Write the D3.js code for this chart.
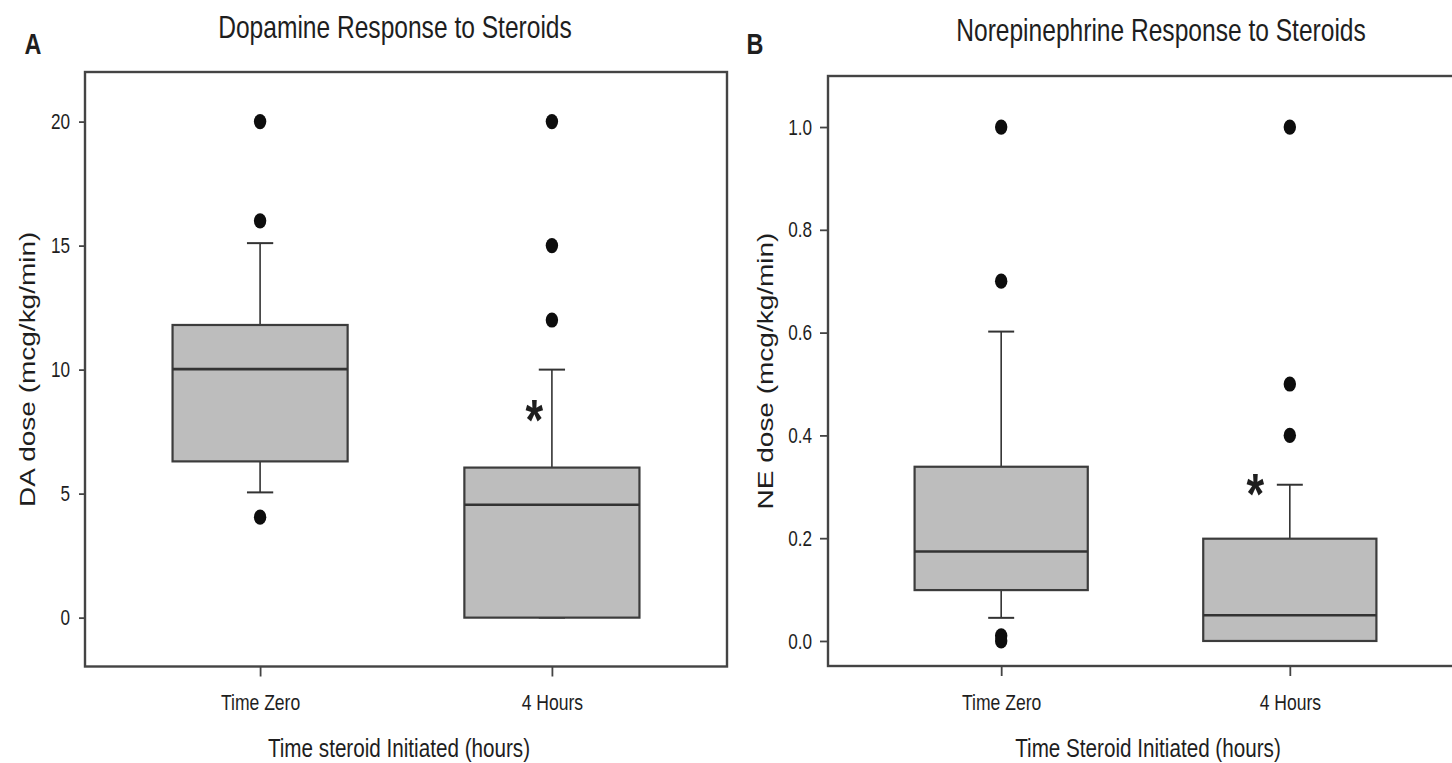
<!DOCTYPE html>
<html>
<head>
<meta charset="utf-8">
<script src="https://cdn.jsdelivr.net/npm/d3@7"></script>
<style>
  body { margin: 0; background: #fff; }
  svg { display: block; }
  text { font-family: "Liberation Sans", Arial, sans-serif; fill: #1e1e1e; }
</style>
</head>
<body>
<svg id="chart" width="1452" height="763"></svg>
<script>
// categories on the x axis (same for both panels)
var categories = ["Time Zero", "4 Hours"];

// box stats: [low whisker, q1, median, q3, high whisker]
var daTimeZero = [5.05, 6.3, 10.02, 11.8, 15.1];
var daFourHours = [0, 0, 4.55, 6.05, 10];
var daOutliers = [[20, 16, 4.05], [20, 15, 12]];
var daTicks = [0, 5, 10, 15, 20];
var daStar = 8.4; // significance mark on 4 Hours

var neTimeZero = [0.045, 0.099, 0.174, 0.339, 0.602];
var neFourHours = [0, 0, 0.05, 0.199, 0.304];
var neOutliers = [[1.0, 0.7, 0.01, 0.0], [1.0, 0.5, 0.4]];
var neTicks = [0.0, 0.2, 0.4, 0.6, 0.8, 1.0];
var neStar = 0.308;

var SX = 0.78; // horizontal squeeze of the original figure
var svg = d3.select("#chart");

function squeezeAt(sel, x, y) {
  sel.attr("transform", "translate(" + x + "," + y + ") scale(" + SX + ",1)");
}

function drawPanel(p) {
  var g = svg.append("g");

  var x = d3.scaleLinear().domain([-0.6, 1.6]).range([p.left, p.right]);
  var y = d3.scaleLinear().domain(p.yDomain).range([p.bottom, p.top]);

  var boxHalf = 0.3, capHalf = 0.045;

  // boxes
  p.boxes.forEach(function(b, i) {
    var bg = g.append("g");
    // whiskers
    bg.append("line")
      .attr("x1", x(i)).attr("x2", x(i))
      .attr("y1", y(b[3])).attr("y2", y(b[4]))
      .attr("stroke", "#333").attr("stroke-width", 1.6);
    bg.append("line")
      .attr("x1", x(i)).attr("x2", x(i))
      .attr("y1", y(b[1])).attr("y2", y(b[0]))
      .attr("stroke", "#333").attr("stroke-width", 1.6);
    [b[0], b[4]].forEach(function(v) {
      bg.append("line")
        .attr("x1", x(i - capHalf)).attr("x2", x(i + capHalf))
        .attr("y1", y(v)).attr("y2", y(v))
        .attr("stroke", "#333").attr("stroke-width", 2);
    });
    bg.append("rect")
      .attr("x", x(i - boxHalf))
      .attr("y", y(b[3]))
      .attr("width", x(i + boxHalf) - x(i - boxHalf))
      .attr("height", y(b[1]) - y(b[3]))
      .attr("fill", "#bdbdbd")
      .attr("stroke", "#3c3c3c")
      .attr("stroke-width", 2.2);
    bg.append("line")
      .attr("x1", x(i - boxHalf)).attr("x2", x(i + boxHalf))
      .attr("y1", y(b[2])).attr("y2", y(b[2]))
      .attr("stroke", "#333").attr("stroke-width", 2.6);
    // outliers
    bg.selectAll("ellipse")
      .data(p.outliers[i])
      .enter().append("ellipse")
      .attr("cx", x(i))
      .attr("cy", function(d) { return y(d); })
      .attr("rx", 6.2).attr("ry", 7.6)
      .attr("fill", "#0d0d0d");
  });

  // significance star
  var star = g.append("text")
    .attr("text-anchor", "middle")
    .style("font-size", "58px")
    .style("font-weight", "bold")
    .text("*");
  squeezeAt(star, x(1 + p.starOffset), y(p.star) + 31);

  // frame
  g.append("rect")
    .attr("x", p.left).attr("y", p.top)
    .attr("width", p.right - p.left).attr("height", p.bottom - p.top)
    .attr("fill", "none")
    .attr("stroke", "#444")
    .attr("stroke-width", 2.4);

  // y axis
  var yAxis = g.append("g")
    .attr("transform", "translate(" + p.left + ",0)")
    .call(d3.axisLeft(y).tickValues(p.ticks).tickSize(p.ytick).tickPadding(p.ypad).tickFormat(p.fmt));
  yAxis.select(".domain").remove();
  yAxis.selectAll(".tick line").attr("stroke", "#444").attr("stroke-width", 1.8);
  yAxis.selectAll(".tick text")
    .attr("x", -(p.ytick + p.ypad) / SX)
    .attr("transform", "scale(" + SX + ",1)")
    .attr("fill", "#1e1e1e")
    .style("font-size", "22px");

  // x axis
  var xAxis = g.append("g")
    .attr("transform", "translate(0," + p.bottom + ")")
    .call(d3.axisBottom(x).tickValues([0, 1]).tickSize(10).tickPadding(18)
      .tickFormat(function(i) { return categories[i]; }));
  xAxis.select(".domain").remove();
  xAxis.selectAll(".tick line").attr("stroke", "#444").attr("stroke-width", 1.8);
  xAxis.selectAll(".tick text")
    .attr("transform", "scale(" + SX + ",1)")
    .attr("fill", "#1e1e1e")
    .style("font-size", "22.5px");

  // texts
  var title = g.append("text").attr("text-anchor", "middle")
    .style("font-size", "31.5px").text(p.title);
  squeezeAt(title, p.titleX, p.titleY);

  var xt = g.append("text").attr("text-anchor", "middle")
    .style("font-size", "26.5px").text(p.xTitle);
  squeezeAt(xt, p.xTitleX, 757);

  g.append("text")
    .attr("text-anchor", "middle")
    .attr("dy", "0.35em")
    .attr("transform", "translate(" + p.yTitleX + "," + ((p.top + p.bottom) / 2) + ") scale(" + SX + ",1) rotate(-90)")
    .style("font-size", "28px")
    .text(p.yTitle);

  var letter = g.append("text")
    .attr("text-anchor", "middle")
    .style("font-size", "30px")
    .style("font-weight", "bold")
    .text(p.letter);
  squeezeAt(letter, p.letterX, 54);
}

drawPanel({
  left: 85, right: 727, top: 72, bottom: 666.5,
  yDomain: [-1.97, 22.0],
  boxes: [daTimeZero, daFourHours],
  outliers: daOutliers,
  ticks: daTicks,
  fmt: d3.format("d"),
  ytick: 6, ypad: 9,
  star: daStar, starOffset: -0.06,
  title: "Dopamine Response to Steroids", titleX: 395, titleY: 37.5,
  xTitle: "Time steroid Initiated (hours)", xTitleX: 399,
  yTitle: "DA dose (mcg/kg/min)", yTitleX: 27,
  letter: "A", letterX: 33
});

drawPanel({
  left: 828, right: 1463, top: 76, bottom: 666,
  yDomain: [-0.0487, 1.0993],
  boxes: [neTimeZero, neFourHours],
  outliers: neOutliers,
  ticks: neTicks,
  fmt: d3.format(".1f"),
  ytick: 8, ypad: 8,
  star: neStar, starOffset: -0.12,
  title: "Norepinephrine Response to Steroids", titleX: 1161, titleY: 41,
  xTitle: "Time Steroid Initiated (hours)", xTitleX: 1148,
  yTitle: "NE dose (mcg/kg/min)", yTitleX: 765,
  letter: "B", letterX: 755
});
</script>
</body>
</html>
